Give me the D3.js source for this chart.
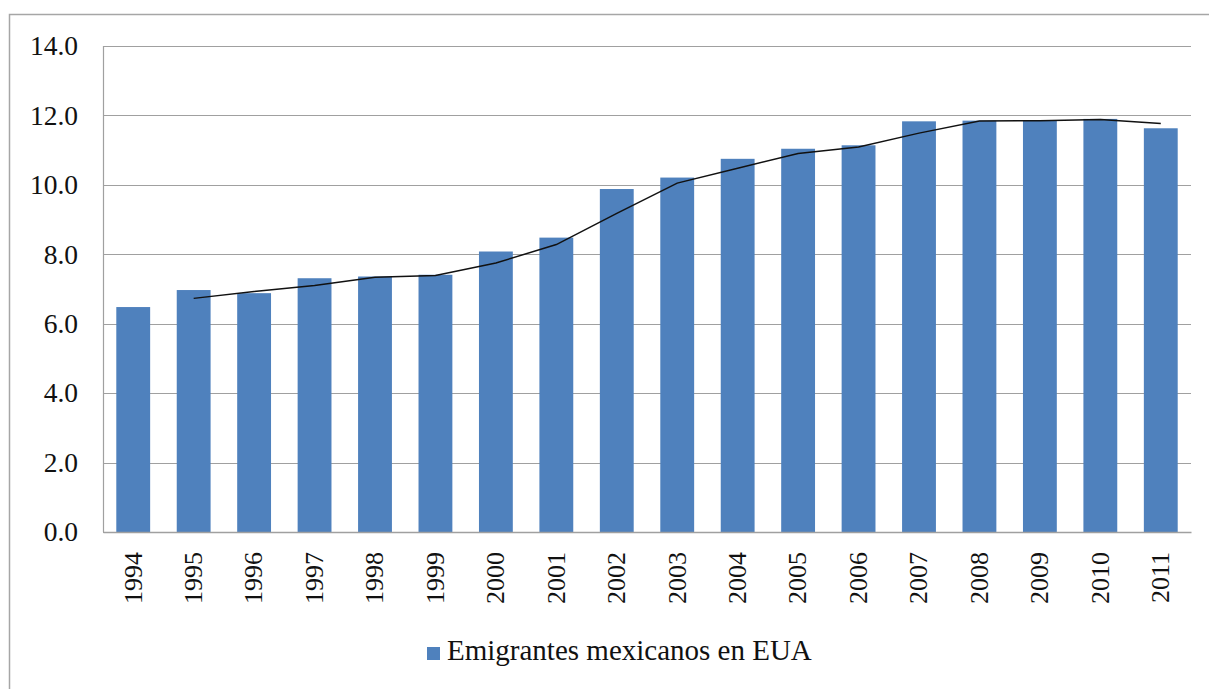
<!DOCTYPE html>
<html>
<head>
<meta charset="utf-8">
<script src="https://cdn.jsdelivr.net/npm/d3@7"></script>
<style>
  body { margin: 0; background: #fff; }
  svg { display: block; }
</style>
</head>
<body>
<svg id="root"></svg>
<script>
const years = ["1994", "1995", "1996", "1997", "1998", "1999", "2000", "2001", "2002",
  "2003", "2004", "2005", "2006", "2007", "2008", "2009", "2010", "2011"]
const emigrantes = [6.48, 6.97, 6.88, 7.31, 7.36, 7.41, 8.08, 8.48, 9.88,
  10.21, 10.75, 11.04, 11.14, 11.83, 11.85, 11.85, 11.90, 11.63]
// moving average line (starts at 1995)
const trendYears = years.slice(1)
const trendValues = [6.73, 6.93, 7.10, 7.34, 7.39, 7.75, 8.28, 9.18, 10.05,
  10.48, 10.90, 11.09, 11.49, 11.84, 11.85, 11.88, 11.77]
const yTicks = [0, 2, 4, 6, 8, 10, 12, 14]
const legendLabel = "Emigrantes mexicanos en EUA"

const W = 1209, H = 689
const margin = { top: 46, right: 18, bottom: 157, left: 103 },
  width = W - margin.left - margin.right,
  height = H - margin.top - margin.bottom

const root = d3.select("#root").attr("width", W).attr("height", H)

// chart frame
root.append("rect")
  .attr("x", 9.5).attr("y", 14.5)
  .attr("width", 1230).attr("height", 700)
  .attr("fill", "none")
  .attr("stroke", "#a6a6a6")
  .attr("stroke-width", 1.5)

const svg = root.append("g")
  .attr("transform", `translate(${margin.left},${margin.top})`)

const xScale = d3.scaleBand(years, [0, width]).paddingInner(0.44).paddingOuter(0.22)
const yScale = d3.scaleLinear([0, 14], [height, 0])

const font = "'Liberation Serif', 'Times New Roman', serif"

// gridlines
svg.append("g")
  .selectAll("line")
  .data(yTicks)
  .join("line")
  .attr("x1", 0).attr("x2", width)
  .attr("y1", d => Math.round(yScale(d)) + 0.5)
  .attr("y2", d => Math.round(yScale(d)) + 0.5)
  .attr("stroke", "#a0a0a0")
  .attr("stroke-width", 1.2)

svg.append("line")
  .attr("x1", 0.5).attr("x2", 0.5)
  .attr("y1", 0).attr("y2", height)
  .attr("stroke", "#a0a0a0")
  .attr("stroke-width", 1.2)

// bars
svg.append("g")
  .selectAll("rect")
  .data(emigrantes)
  .join("rect")
  .attr("x", (d, i) => xScale(years[i]))
  .attr("y", d => yScale(d))
  .attr("width", xScale.bandwidth())
  .attr("height", d => height - yScale(d))
  .attr("fill", "#4f81bd")

// axes
const yAxis = d3.axisLeft(yScale).tickValues(yTicks).tickSize(0).tickPadding(25)
  .tickFormat(d3.format(".1f"))
svg.append("g")
  .call(yAxis)
  .call(g => g.select(".domain").remove())
  .selectAll("text")
  .attr("font-family", font)
  .attr("font-size", 27.5)
  .attr("fill", "#111")

const xAxis = d3.axisBottom(xScale).tickSize(0)
svg.append("g")
  .attr("transform", `translate(0,${height})`)
  .call(xAxis)
  .call(g => g.select(".domain").attr("stroke", "#a0a0a0").attr("stroke-width", 1.5))
  .selectAll("text")
  .attr("font-family", font)
  .attr("font-size", 26)
  .attr("fill", "#111")
  .attr("text-anchor", "end")
  .attr("transform", "rotate(-90)")
  .attr("x", -20)
  .attr("y", 0)
  .attr("dy", "0.32em")

// moving average
const line = d3.line()
  .x((d, i) => xScale(trendYears[i]) + xScale.bandwidth() / 2)
  .y(d => yScale(d))
svg.append("path")
  .datum(trendValues)
  .attr("fill", "none")
  .attr("stroke", "#111")
  .attr("stroke-width", 1.5)
  .attr("d", line)

// legend
const legend = root.append("g").attr("transform", "translate(427,647)")
legend.append("rect")
  .attr("width", 13).attr("height", 13)
  .attr("fill", "#4f81bd")
legend.append("text")
  .attr("x", 20).attr("y", 13)
  .attr("font-family", font)
  .attr("font-size", 29)
  .attr("fill", "#111")
  .text(legendLabel)
</script>
</body>
</html>
